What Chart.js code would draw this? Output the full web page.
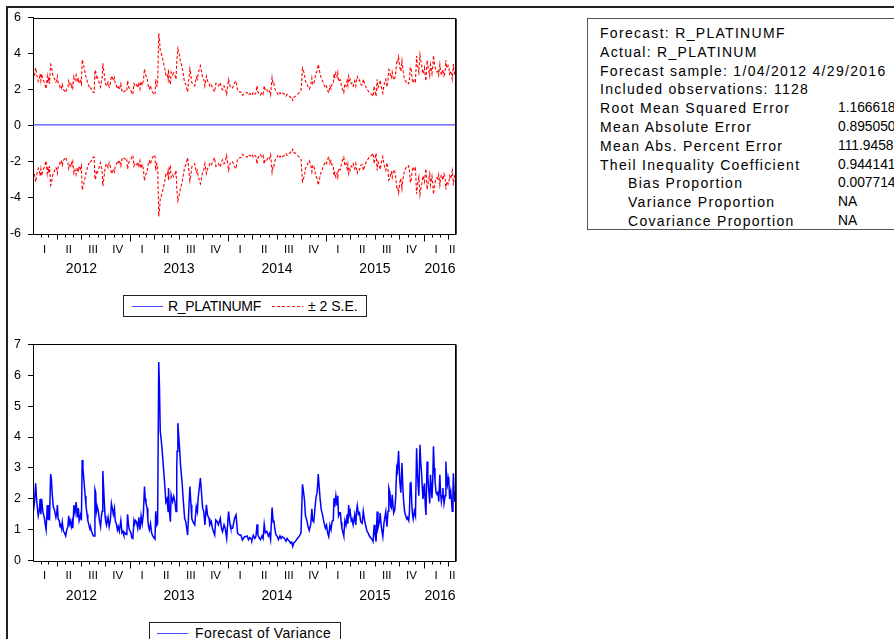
<!DOCTYPE html>
<html>
<head>
<meta charset="utf-8">
<script src="https://cdn.jsdelivr.net/npm/chart.js@4.4.0/dist/chart.umd.min.js"></script>
<style>
  html, body { margin: 0; padding: 0; background: #fff; }
  #page { position: relative; width: 894px; height: 639px; overflow: hidden;
          font-family: "Liberation Sans", Arial, sans-serif; color: #000; background: #fff; }
  #frame { position: absolute; left: 6px; top: 6px; width: 1000px; height: 1000px;
           border-left: 2px solid #222; border-top: 2px solid #222; }
  canvas { position: absolute; }
  #c1 { left: 0; top: 0; }
  #c2 { left: 0; top: 320px; }
  .legend { position: absolute; box-sizing: border-box; border: 1px solid #222; background: #fff;
            font-size: 14px; white-space: nowrap; }
  .legend svg { position: absolute; }
  .legend span { position: absolute; line-height: 16px; }
  #lg1 { left: 123px; top: 295px; width: 244px; height: 22px; }
  #lg2 { left: 149px; top: 622px; width: 192px; height: 30px; }
  #stats { position: absolute; left: 587px; top: 18px; width: 330px; height: 212px;
           box-sizing: border-box; border: 1px solid #555; }
  .srow { position: absolute; left: 0; height: 18px; line-height: 18px; white-space: nowrap; }
  .slab { position: absolute; font-size: 14px; letter-spacing: 1.3px; }
  .sval { position: absolute; left: 250px; font-size: 13.8px; }
</style>
</head>
<body>
<div id="page">
  <div id="frame"></div>
  <canvas id="c1" width="470" height="292"></canvas>
  <canvas id="c2" width="470" height="300"></canvas>

  <div class="legend" id="lg1">
    <svg style="left:8px;top:9px" width="31" height="3"><line x1="0" y1="1.5" x2="31" y2="1.5" stroke="#4b4bff" stroke-width="1"/></svg>
    <span style="left:44px;top:2px;letter-spacing:-0.3px">R_PLATINUMF</span>
    <svg style="left:148px;top:9px" width="31" height="3"><line x1="0" y1="1.5" x2="31" y2="1.5" stroke="#ff2020" stroke-width="1" stroke-dasharray="3,2"/></svg>
    <span style="left:184px;top:2px">± 2 S.E.</span>
  </div>

  <div class="legend" id="lg2">
    <svg style="left:7px;top:9px" width="31" height="3"><line x1="0" y1="1.5" x2="31" y2="1.5" stroke="#4b4bff" stroke-width="1"/></svg>
    <span style="left:45px;top:2px;letter-spacing:0.4px">Forecast of Variance</span>
  </div>

  <div id="stats"></div>
</div>

<script>
// Forecast evaluation summary
const statRows = [
  ['Forecast: R_PLATINUMF', ''],
  ['Actual: R_PLATINUM', ''],
  ['Forecast sample: 1/04/2012 4/29/2016', ''],
  ['Included observations: 1128', ''],
  ['Root Mean Squared Error', '1.166618'],
  ['Mean Absolute Error', '0.895050'],
  ['Mean Abs. Percent Error', '111.9458'],
  ['Theil Inequality Coefficient', '0.944141']
];
// Decomposition of the Theil coefficient (listed indented)
const theilParts = [
  ['Bias Proportion', '0.007714'],
  ['Variance Proportion', 'NA'],
  ['Covariance Proportion', 'NA']
];

// Sample: weekdays from 4 Jan 2012 to 29 Apr 2016
const sampleStart = [2012, 0, 4];
const sampleEnd = [2016, 3, 29];
const quarterNames = ['I', 'II', 'III', 'IV'];

// Point forecast of R_PLATINUM (flat over the sample)
const rPlatinumF = 0.05;

// Forecast of variance: observation number (0 = 1/04/2012) and value
const obsIndex = [
  0,4,7,10,14,17,19,21,23,26,30,33,35,38,40,42,44,47,49,51,54,57,61,63,65,67,70,72,74,76,78,81,84,87,90,93,95,97,99,
  102,104,106,109,112,115,118,121,123,127,129,131,133,135,137,139,141,144,146,150,152,154,156,159,161,163,165,167,169,
  171,174,177,180,182,184,186,188,190,192,194,196,200,203,206,209,212,214,217,219,222,225,227,230,234,237,240,242,245,
  248,250,252,255,257,261,263,266,269,271,273,276,279,282,285,288,291,294,297,299,301,304,306,308,310,313,316,319,322,
  325,327,330,332,335,
  337,339,342,345,347,351,354,357,360,361,363,366,368,372,375,378,381,383,384,386,388,391,393,397,400,404,407,412,418,
  421,423,426,431,435,438,440,446,448,452,455,458,462,465,469,471,475,478,484,487,491,494,499,502,505,509,512,516,521,
  525,527,532,537,541,545,550,554,558,564,567,
  571,574,578,581,583,587,591,594,597,599,602,606,610,613,616,619,623,627,630,633,637,640,642,644,647,651,654,658,661,
  664,667,670,674,677,681,684,686,689,692,695,699,702,706,710,714,718,720,723,726,730,733,736,740,743,745,748,752,754,
  757,760,763,765,768,772,775,779,782,785,788,791,794,797,800,802,804,807,810,812,814,817,819,821,823,826,828,831,834,
  837,839,841,843,845,848,
  850,853,857,860,862,864,867,870,873,877,880,884,888,890,893,897,901,904,906,909,911,914,917,919,923,925,928,932,935,
  937,940,943,946,948,951,953,955,957,961,964,966,969,971,974,977,980,983,985,987,990,993,996,998,1001,1003,1005,1007,
  1009,1011,1013,1016,1019,1022,1024,1026,1028,1031,1033,1035,1037,1039,1041,1043,1045,1047,1050,1052,1054,1057,1059,
  1061,1063,1065,1067,1069,1071,1074,1077,1079,1081,1084,1086,1088,1090,1092,1095,1098,1100,1102,1104,1106,1108,1110,
  1113,1115,1117,1119,1120,1122,1124,1127
];
const forecastVariance = [
  1.5,1.9,2.5,1.9,1.45,1.65,2.0,1.5,2.0,1.6,1.4,1.15,1.0,1.8,1.35,1.8,1.3,2.8,2.65,2.2,1.75,1.65,1.4,1.5,1.8,1.35,1.3,
  1.1,1.2,1.05,1.25,0.95,0.9,0.8,1.0,1.1,1.45,1.2,1.3,
  1.1,1.25,1.05,1.8,1.55,1.9,1.4,1.7,1.3,1.5,1.3,3.26,3.0,2.7,2.4,2.1,1.8,1.5,1.3,1.1,1.0,1.05,0.95,0.85,0.8,0.8,2.3,
  2.2,1.6,
  1.75,1.6,1.3,1.1,1.4,1.6,2.9,2.4,1.9,1.45,1.25,1.15,1.4,1.1,1.3,1.85,1.65,1.5,1.7,1.3,1.2,1.0,1.1,0.95,1.3,0.9,0.95,
  0.85,0.9,
  0.85,0.9,1.5,1.1,1.0,0.9,0.75,0.72,1.3,1.2,1.3,1.25,1.05,1.4,1.0,1.45,1.2,1.5,2.4,2.0,1.85,1.7,1.3,1.1,1.0,1.2,0.9,
  0.8,0.75,
  0.7,1.6,1.15,1.2,6.43,
  5.6,4.2,3.86,3.43,3.1,2.45,1.9,2.0,1.59,2.35,1.7,1.26,2.13,1.91,2.08,1.91,1.59,3.0,3.54,4.45,4.08,3.54,3.1,2.56,2.02,
  1.37,1.26,0.83,2.4,
  1.81,1.37,1.26,1.16,1.75,1.59,2.02,2.67,2.35,1.7,1.59,1.16,1.81,1.48,1.37,1.16,1.26,1.05,0.83,1.32,1.26,1.16,1.37,
  1.05,0.94,1.16,1.05,0.72,1.59,
  1.16,1.05,1.05,1.37,1.48,0.89,0.83,0.83,0.67,0.78,0.78,
  0.8,0.68,0.75,0.7,0.66,0.82,0.72,0.78,1.18,0.85,0.75,0.68,0.8,0.72,1.18,0.9,0.95,0.8,0.88,0.68,1.72,1.25,1.3,1.05,
  0.85,0.78,0.68,0.8,0.72,
  0.78,0.75,0.72,0.63,0.72,0.65,0.62,0.57,0.6,0.46,0.58,0.62,0.68,0.74,0.8,0.9,2.47,2.3,2.0,1.45,1.28,1.1,0.98,1.18,
  1.68,1.3,1.25,1.8,2.05,
  2.2,2.8,2.3,2.0,1.65,1.45,1.25,1.05,1.15,0.9,0.78,1.15,1.0,1.28,1.3,2.02,1.75,2.1,1.8,2.1,1.45,1.55,1.55,1.25,1.05,
  0.9,0.8,1.3,1.15,
  1.5,1.2,1.8,1.5,1.6,1.3,
  1.35,1.16,1.48,1.16,1.59,1.78,1.5,1.55,1.26,1.21,1.6,1.26,1.05,0.95,0.89,0.78,0.72,0.68,0.62,1.16,0.89,0.62,1.59,
  1.05,1.26,1.54,1.1,0.78,1.2,
  1.37,1.59,1.1,1.6,2.35,2.2,1.75,1.7,2.13,1.54,1.65,2.0,3.0,2.9,3.55,2.6,2.2,3.16,2.5,2.0,1.59,1.45,1.35,1.4,1.3,1.6,
  2.5,2.55,
  1.9,1.5,1.35,1.6,1.45,3.64,2.9,2.45,2.1,3.75,3.2,2.89,2.4,2.0,2.2,2.5,1.8,1.48,3.21,2.7,2.35,1.85,2.78,
  2.4,2.02,2.6,3.7,3.0,2.6,2.2,2.13,2.25,1.91,2.78,2.2,1.91,2.1,2.35,1.85,2.1,3.21,2.6,2.45,2.7,2.56,2.0,
  2.24,1.95,1.6,2.3,2.83,2.2,1.9,2.35
];

// ---- calendar: observation numbers of months, quarters and years ----
const months = [];
let obsCount = 0;
(function () {
  const d = new Date(Date.UTC(sampleStart[0], sampleStart[1], sampleStart[2]));
  const end = new Date(Date.UTC(sampleEnd[0], sampleEnd[1], sampleEnd[2]));
  while (d <= end) {
    const wd = d.getUTCDay();
    if (wd !== 0 && wd !== 6) {
      const y = d.getUTCFullYear(), m = d.getUTCMonth();
      const last = months[months.length - 1];
      if (!last || last.y !== y || last.m !== m) months.push({ y, m, first: obsCount, last: obsCount });
      else last.last = obsCount;
      obsCount++;
    }
    d.setUTCDate(d.getUTCDate() + 1);
  }
})();
const lastObs = obsCount - 1;

const quarterTicks = [];
const yearTicks = [];
months.forEach(mo => {
  const q = Math.floor(mo.m / 3);
  let qt = quarterTicks[quarterTicks.length - 1];
  if (!qt || qt.y !== mo.y || qt.q !== q) quarterTicks.push({ y: mo.y, q, first: mo.first, last: mo.last });
  else qt.last = mo.last;
  let yt = yearTicks[yearTicks.length - 1];
  if (!yt || yt.y !== mo.y) yearTicks.push({ y: mo.y, first: mo.first, last: mo.last });
  else yt.last = mo.last;
});
quarterTicks.forEach(t => { t.value = (t.first + t.last) / 2; t.label = quarterNames[t.q]; });
yearTicks.forEach(t => { t.value = (t.first + t.last) / 2; t.label = String(t.y); });

// ---- series ----
const varianceData = obsIndex.map((o, i) => ({ x: o, y: forecastVariance[i] }));
// ±2 S.E. bands: the forecast standard error is the square root of the forecast variance
const upperBand = obsIndex.map((o, i) => ({ x: o, y: rPlatinumF + 2 * Math.sqrt(forecastVariance[i]) }));
const lowerBand = obsIndex.map((o, i) => ({ x: o, y: rPlatinumF - 2 * Math.sqrt(forecastVariance[i]) }));
const forecastLine = [{ x: 0, y: rPlatinumF }, { x: lastObs, y: rPlatinumF }];

Chart.defaults.font.family = '"Liberation Sans", Arial, sans-serif';
Chart.defaults.color = '#000';

// plot frame and month / quarter / year tick marks under the plot
const frameAndTicks = {
  id: 'frameAndTicks',
  afterDatasetsDraw(chart) {
    const { ctx, chartArea: a } = chart;
    const xs = chart.scales.x;
    ctx.save();
    ctx.strokeStyle = '#000';
    ctx.lineWidth = 1;
    const l = Math.round(a.left) + 0.5, r = Math.round(a.right) - 0.5;
    const t = Math.round(a.top) + 0.5, b = Math.round(a.bottom) + 0.5;
    ctx.beginPath();
    ctx.moveTo(l, t); ctx.lineTo(r, t); ctx.lineTo(r, b); ctx.lineTo(l, b); ctx.closePath();
    ctx.stroke();
    ctx.lineWidth = 1.5;
    ctx.beginPath(); ctx.moveTo(r + 0.5, t); ctx.lineTo(r + 0.5, b); ctx.stroke();
    ctx.lineWidth = 1;
    ctx.beginPath();
    months.forEach((mo, i) => {
      if (i === 0) return;
      const px = Math.round(xs.getPixelForValue(mo.first)) + 0.5;
      const len = mo.m === 0 ? 7 : (mo.m % 3 === 0 ? 5 : 3);
      ctx.moveTo(px, b); ctx.lineTo(px, b + len);
    });
    ctx.stroke();
    ctx.restore();
  }
};

function bottomAxes() {
  return {
    x: {
      type: 'linear', position: 'bottom', min: 0, max: lastObs, weight: 0,
      grid: { display: false, drawTicks: false }, border: { display: false },
      afterBuildTicks: s => { s.ticks = quarterTicks.map(t => ({ value: t.value })); },
      afterFit: s => { s.height = 22; },
      ticks: { autoSkip: false, maxRotation: 0, minRotation: 0, padding: 8.5,
               font: { size: 11.5 }, color: '#000', callback: (v, i) => quarterTicks[i].label }
    },
    xYear: {
      type: 'linear', position: 'bottom', min: 0, max: lastObs, weight: 1,
      grid: { display: false, drawTicks: false }, border: { display: false },
      afterBuildTicks: s => { s.ticks = yearTicks.map(t => ({ value: t.value })); },
      afterFit: s => { s.height = 20; },
      ticks: { autoSkip: false, maxRotation: 0, minRotation: 0, padding: 5,
               font: { size: 14 }, color: '#000', callback: (v, i) => yearTicks[i].label }
    }
  };
}

function leftAxis(min, max, step) {
  return {
    min, max, position: 'left',
    ticks: { stepSize: step, padding: 7, font: { size: 12.5 }, color: '#000' },
    grid: { display: true, drawOnChartArea: false, drawTicks: true, tickLength: 5, color: '#000' },
    border: { display: true, color: '#000' },
    afterFit: s => { s.width = 33; }
  };
}

const common = {
  responsive: false, animation: false, devicePixelRatio: 1, events: [],
  elements: { point: { radius: 0 }, line: { tension: 0 } },
  plugins: { legend: { display: false }, tooltip: { enabled: false } }
};

new Chart(document.getElementById('c1'), {
  type: 'line',
  data: {
    datasets: [
      { label: 'R_PLATINUMF', data: forecastLine, borderColor: '#5050ff', borderWidth: 1.4 },
      { label: '± 2 S.E.', data: upperBand, borderColor: '#ff0000', borderWidth: 1.1, borderDash: [3, 2] },
      { label: '± 2 S.E. (lower)', data: lowerBand, borderColor: '#ff0000', borderWidth: 1.1, borderDash: [3, 2] }
    ]
  },
  options: Object.assign({}, common, {
    layout: { padding: { left: 0, top: 17.5, right: 14, bottom: 16 } },
    scales: Object.assign(bottomAxes(), { y: leftAxis(-6, 6, 2) })
  }),
  plugins: [frameAndTicks]
});

new Chart(document.getElementById('c2'), {
  type: 'line',
  data: {
    datasets: [
      { label: 'Forecast of Variance', data: varianceData, borderColor: '#0000ff', borderWidth: 1.5 }
    ]
  },
  options: Object.assign({}, common, {
    layout: { padding: { left: 0, top: 24.3, right: 14, bottom: 17.3 } },
    scales: Object.assign(bottomAxes(), { y: leftAxis(0, 7, 1) })
  }),
  plugins: [frameAndTicks]
});

// summary table
const stats = document.getElementById('stats');
const rowTop = i => 32 - 18 - 9 + i * 18.8;
statRows.concat(theilParts).forEach((row, i) => {
  const div = document.createElement('div');
  div.className = 'srow';
  div.style.top = rowTop(i) + 'px';
  const lab = document.createElement('span');
  lab.className = 'slab';
  lab.style.left = (i >= statRows.length ? 40 : 12) + 'px';
  lab.textContent = row[0];
  div.appendChild(lab);
  if (row[1]) {
    const val = document.createElement('span');
    val.className = 'sval';
    val.textContent = row[1];
    div.appendChild(val);
  }
  stats.appendChild(div);
});
</script>
</body>
</html>
